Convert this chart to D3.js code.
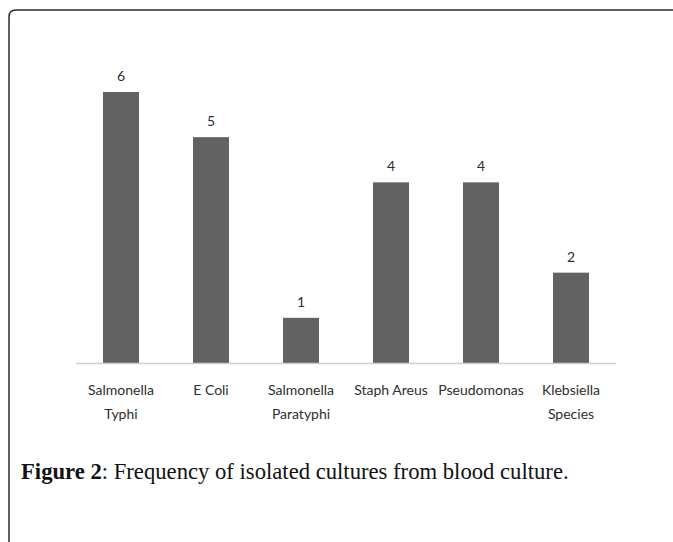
<!DOCTYPE html>
<html lang="en">
<head>
  <meta charset="UTF-8">
  <title>Frequency of isolated cultures from blood culture</title>
  <script src="https://d3js.org/d3.v7.min.js"></script>
  <style>
    body {
      margin: 0;
      background: #fff;
    }
    svg {
      display: block;
    }
    .bar {
      fill: #626262;
    }
    .value-label, .cat-label {
      font-family: Lato, "Open Sans", sans-serif;
      font-size: 14px;
      fill: #2e2e2e;
      text-anchor: middle;
    }
    .caption {
      font-family: "Liberation Serif", "DejaVu Serif", serif;
      font-size: 20px;
      fill: #111;
    }
  </style>
</head>
<body>
  <svg width="673" height="542"></svg>

  <script>
    const categories = [
      ['Salmonella', 'Typhi'],
      ['E Coli'],
      ['Salmonella', 'Paratyphi'],
      ['Staph Areus'],
      ['Pseudomonas'],
      ['Klebsiella', 'Species']
    ];
    const counts = [6, 5, 1, 4, 4, 2];

    const svg = d3.select('svg');
    const width = +svg.attr('width');
    const height = +svg.attr('height');

    // frame with rounded top-left corner
    const fx = 9, fy = 10, r = 7;
    svg.append('path')
      .attr('d', `M${fx},${height} L${fx},${fy + r} Q${fx},${fy} ${fx + r},${fy} L${width},${fy}`)
      .attr('fill', 'none')
      .attr('stroke', '#2a2a2a')
      .attr('stroke-width', 1.5);

    const margin = { left: 76, right: 57, top: 92, bottom: 179 };
    const baseY = height - margin.bottom;

    const x = d3.scaleBand()
      .domain(d3.range(counts.length))
      .range([margin.left, width - margin.right])
      .paddingInner(0.6)
      .paddingOuter(0.3);

    const y = d3.scaleLinear()
      .domain([0, 6])
      .range([baseY, margin.top]);

    const chart = svg.append('g');

    chart.selectAll('.bar')
      .data(counts)
      .enter()
      .append('rect')
      .attr('class', 'bar')
      .attr('x', (_, i) => x(i))
      .attr('y', d => y(d))
      .attr('width', x.bandwidth())
      .attr('height', d => baseY - y(d));

    // baseline
    chart.append('line')
      .attr('x1', margin.left)
      .attr('x2', width - margin.right)
      .attr('y1', baseY + 0.5)
      .attr('y2', baseY + 0.5)
      .attr('stroke', '#cfcfcf')
      .attr('stroke-width', 1.5);

    chart.selectAll('.value-label')
      .data(counts)
      .enter()
      .append('text')
      .attr('class', 'value-label')
      .attr('x', (_, i) => x(i) + x.bandwidth() / 2)
      .attr('y', d => y(d) - 11)
      .text(d => d);

    const catLabels = chart.selectAll('.cat-label')
      .data(categories)
      .enter()
      .append('text')
      .attr('class', 'cat-label')
      .attr('x', (_, i) => x(i) + x.bandwidth() / 2)
      .attr('y', baseY + 32);

    catLabels.selectAll('tspan')
      .data(d => d)
      .enter()
      .append('tspan')
      .attr('x', function () { return d3.select(this.parentNode).attr('x'); })
      .attr('dy', (_, j) => j === 0 ? 0 : 24)
      .text(d => d);

    const caption = svg.append('text')
      .attr('class', 'caption')
      .attr('x', 21)
      .attr('y', 479);
    caption.append('tspan').attr('font-weight', 'bold').text('Figure 2');
    caption.append('tspan').text(': Frequency of isolated cultures from blood culture.');

    // the original caption face is wider; grow the size until it spans the same width
    const capWidth = caption.node().getComputedTextLength();
    caption.style('font-size', (20 * 548 / capWidth).toFixed(2) + 'px');
  </script>
</body>
</html>
